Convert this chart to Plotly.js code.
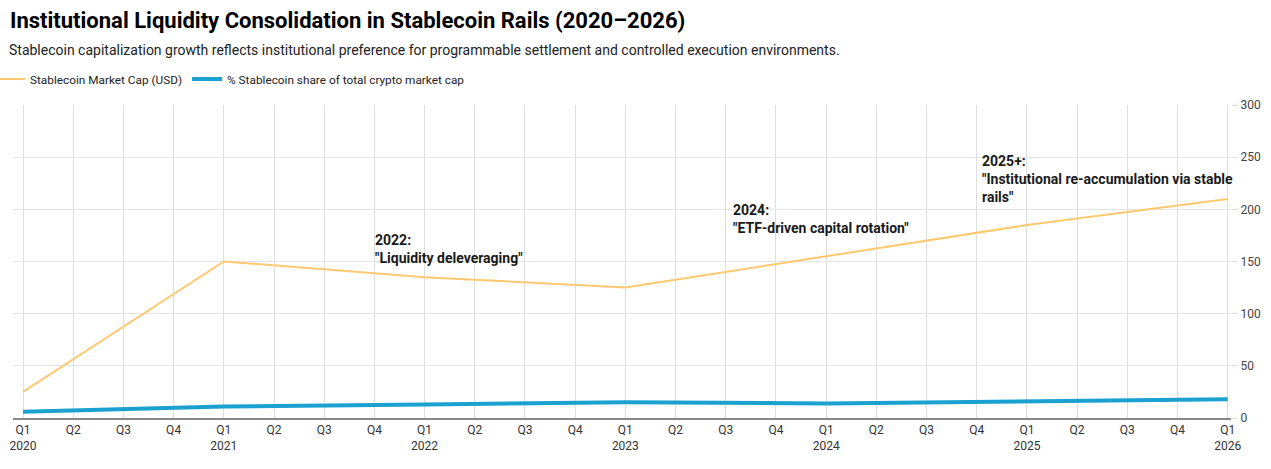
<!DOCTYPE html>
<html>
<head>
<meta charset="utf-8">
<script src="https://cdn.plot.ly/plotly-3.0.1.min.js"></script>
<style>html,body{margin:0;padding:0;background:#fff;}#chart{width:1271px;height:469px;}</style>
</head>
<body>
<div id="chart"></div>
<script>
// ---- data ----
const years = [2020, 2021, 2022, 2023, 2024, 2025, 2026];
const quarterNames = ["Q1", "Q2", "Q3", "Q4"];
const pointDates = ["2020 Q1", "2021 Q1", "2022 Q1", "2023 Q1", "2024 Q1", "2025 Q1", "2026 Q1"];
const stablecoinCap = [25, 150, 135, 125, 155, 185, 210];
const stablecoinShare = [6, 11, 13, 15, 14, 16, 18];
const seriesNames = ["Stablecoin Market Cap (USD)", "% Stablecoin share of total crypto market cap"];
const yTicks = [0, 50, 100, 150, 200, 250, 300];
const noteLabels = ["2022:", "2024:", "2025+:"];
const noteTexts = ['"Liquidity deleveraging"', '"ETF-driven capital rotation"', '"Institutional re-accumulation via stable<br>rails"'];
const noteX = [6.98, 14.1, 19.06];
const noteY = [180, 209, 256];

// build quarter categories
const categories = [];
const tickText = [];
years.forEach(function (y) {
  quarterNames.forEach(function (q) {
    if (y === 2026 && q !== "Q1") return;
    categories.push(y + " " + q);
    tickText.push(q === "Q1" ? q + "<br>" + y : q);
  });
});

const font = "Roboto, 'Noto Sans', sans-serif";

const traces = [
  {
    x: pointDates, y: stablecoinCap, name: seriesNames[0], type: "scatter", mode: "lines",
    line: { color: "#FFC971", width: 2 }, hoverinfo: "x+y"
  },
  {
    x: pointDates, y: stablecoinShare, name: seriesNames[1], type: "scatter", mode: "lines",
    line: { color: "#1BA1CF", width: 4 }, hoverinfo: "x+y"
  }
];

const annotations = noteLabels.map(function (lab, i) {
  return {
    x: noteX[i], y: noteY[i], xref: "x", yref: "y",
    text: "<b>" + lab + "<br>" + noteTexts[i] + "</b>",
    showarrow: false, xanchor: "left", yanchor: "top", align: "left",
    font: { family: font, size: 14, color: "#1a1a1a" }
  };
});
annotations.push({
  xref: "paper", yref: "paper", x: (7 - 13) / 1218, y: (418 - 50) / 313,
  xanchor: "left", yanchor: "middle", showarrow: false, align: "left",
  text: "Stablecoin capitalization growth reflects institutional preference for programmable settlement and controlled execution environments.",
  font: { family: font, size: 14, color: "#222" }
});

const layout = {
  width: 1271, height: 469,
  paper_bgcolor: "#fff", plot_bgcolor: "#fff",
  margin: { l: 13, r: 40, t: 105, b: 51, autoexpand: false },
  title: {
    text: "<b>Institutional Liquidity Consolidation in Stablecoin Rails (2020–2026)</b>",
    xref: "container", yref: "container", x: 10 / 1271, y: 1 - 20 / 469,
    xanchor: "left", yanchor: "middle",
    font: { family: font, size: 22, color: "#000" }
  },
  showlegend: true,
  legend: {
    orientation: "h", xref: "paper", yref: "paper",
    x: (-10 - 13) / 1218, y: (418 - 79) / 313, xanchor: "left", yanchor: "middle",
    font: { family: font, size: 11.8, color: "#222" }, bgcolor: "rgba(0,0,0,0)"
  },
  xaxis: {
    type: "category", categoryorder: "array", categoryarray: categories,
    tickmode: "array", tickvals: categories, ticktext: tickText,
    range: [-0.2, 24.066],
    showgrid: true, gridcolor: "#dedede", gridwidth: 1,
    showline: true, linecolor: "#888", linewidth: 2,
    ticks: "", tickfont: { family: font, size: 12, color: "#333" },
    zeroline: false, fixedrange: true
  },
  yaxis: {
    side: "right", range: [0, 300], tickmode: "array", tickvals: yTicks,
    showgrid: true, gridcolor: "#e3e3e3", gridwidth: 1,
    zeroline: false, showline: false,
    ticks: "outside", ticklen: 6, tickcolor: "#dcdcdc",
    tickfont: { family: font, size: 12, color: "#444" }, fixedrange: true
  },
  annotations: annotations,
  font: { family: font }
};

Plotly.newPlot("chart", traces, layout, { displayModeBar: false, staticPlot: true });
</script>
</body>
</html>
